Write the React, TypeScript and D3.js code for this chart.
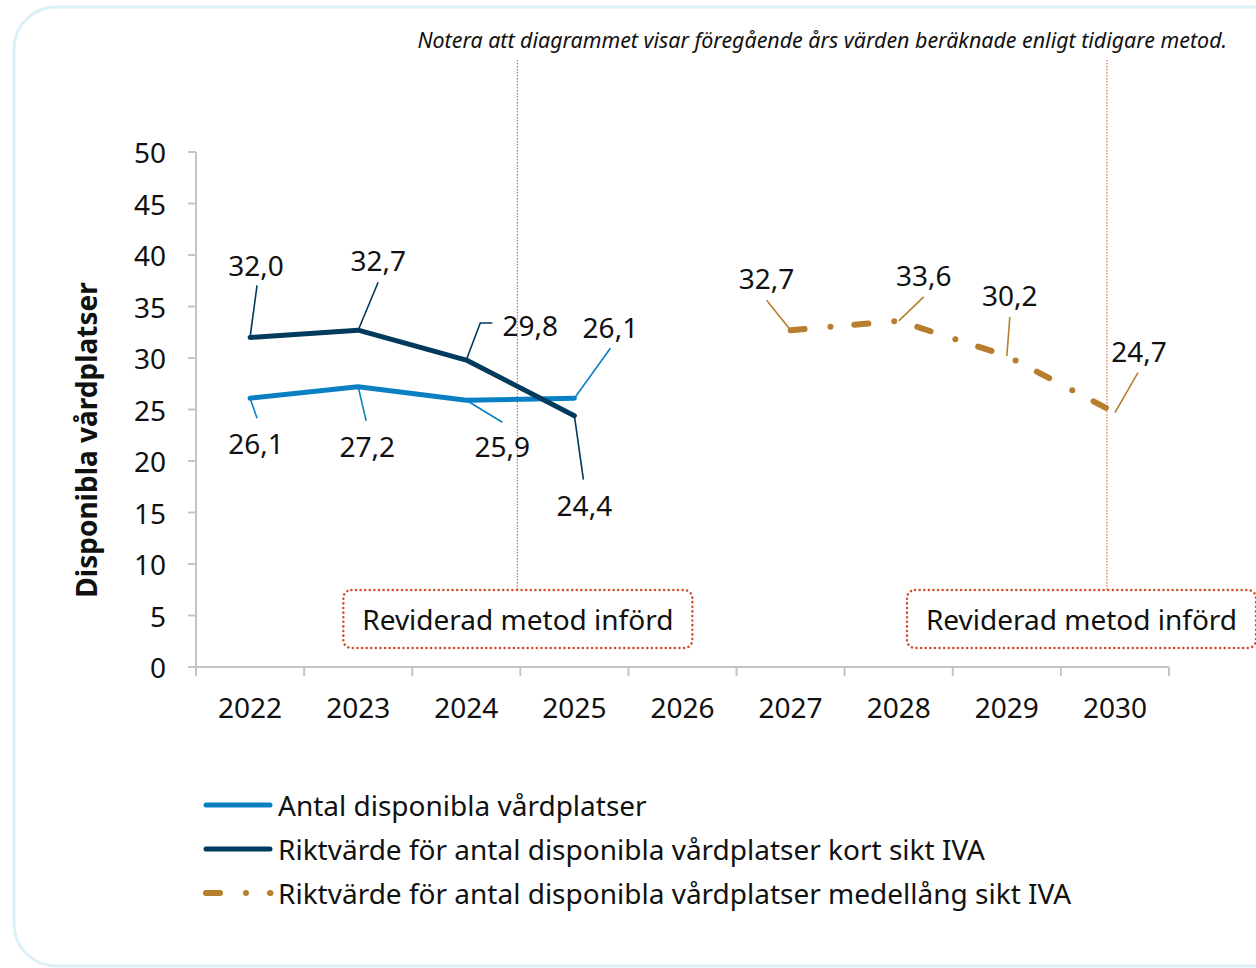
import React from 'react';
import * as d3 from 'd3';

// chart data
const years = ['2022', '2023', '2024', '2025', '2026', '2027', '2028', '2029', '2030'];
const yTicks = [0, 5, 10, 15, 20, 25, 30, 35, 40, 45, 50];

const antalYears = ['2022', '2023', '2024', '2025'];
const antalValues = [26.1, 27.2, 25.9, 26.1];

const kortYears = ['2022', '2023', '2024', '2025'];
const kortValues = [32.0, 32.7, 29.8, 24.4];

const medelYears = ['2027', '2028', '2029', '2030'];
const medelValues = [32.7, 33.6, 30.2, 24.7];

const seriesNames = [
  'Antal disponibla vårdplatser',
  'Riktvärde för antal disponibla vårdplatser kort sikt IVA',
  'Riktvärde för antal disponibla vårdplatser medellång sikt IVA',
];
const noteText = 'Notera att diagrammet visar föregående års värden beräknade enligt tidigare metod.';
const methodText = 'Reviderad metod införd';
const yTitle = 'Disponibla vårdplatser';

// label placement (offsets from the point, px): text centre, leader end, optional elbow
const antalLabelPos = [
  { tx: 6, ty: 45, lx: 7, ly: 20 },
  { tx: 9, ty: 59, lx: 8, ly: 34 },
  { tx: 36, ty: 46, lx: 36, ly: 22 },
  { tx: 36, ty: -71, lx: 36, ly: -50 },
];
const kortLabelPos = [
  { tx: 6, ty: -72, lx: 7, ly: -52 },
  { tx: 20, ty: -70, lx: 20, ly: -48 },
  { tx: 64, ty: -35, lx: 26, ly: -37, ex: 14 },
  { tx: 10, ty: 89, lx: 9, ly: 64 },
];
const medelLabelPos = [
  { tx: -24, ty: -52, lx: -24, ly: -30 },
  { tx: 25, ty: -46, lx: 25, ly: -24 },
  { tx: 3, ty: -61, lx: 3, ly: -39 },
  { tx: 24, ty: -62, lx: 23, ly: -40 },
];

const W = 1256;
const H = 968;
const FONT = '"Noto Sans", "Open Sans", sans-serif';
const FS = 28;

const LIGHT = '#0a80c4';
const NAVY = '#003a5d';
const GOLD = '#b77e2d';
const RED = '#d0502c';
const AXIS = '#c4c4c4';
const GOLD_DASH = '14 26 0 24';

const margin = { left: 196, right: W - 1169, top: 152, bottom: H - 667 };

export default function App() {
  const x = d3.scaleBand().domain(years).range([margin.left, W - margin.right]).padding(0);
  const y = d3.scaleLinear().domain([0, 50]).range([H - margin.bottom, margin.top]);
  const cx = (yr: string) => (x(yr) as number) + x.bandwidth() / 2;

  const line = d3
    .line<[string, number]>()
    .x((d) => cx(d[0]))
    .y((d) => y(d[1]));

  const antal = antalYears.map((yr, i) => [yr, antalValues[i]] as [string, number]);
  const kort = kortYears.map((yr, i) => [yr, kortValues[i]] as [string, number]);
  const medel = medelYears.map((yr, i) => [yr, medelValues[i]] as [string, number]);

  const y0 = y(0);
  const edges = years.map((yr) => x(yr) as number).concat([W - margin.right]);

  const fmt = (v: number) => v.toFixed(1).replace('.', ',');

  const labels = (pts: [string, number][], pos: any[], color: string, key: string) =>
    pts.map((d, i) => {
      const px = cx(d[0]);
      const py = y(d[1]);
      const p = pos[i];
      const path =
        p.ex !== undefined
          ? `M${px},${py}L${px + p.ex},${py + p.ly}L${px + p.lx},${py + p.ly}`
          : `M${px},${py}L${px + p.lx},${py + p.ly}`;
      return (
        <g key={key + i}>
          <path d={path} fill="none" stroke={color} strokeWidth={1.6} />
          <text
            x={px + p.tx}
            y={py + p.ty}
            textAnchor="middle"
            dominantBaseline="central"
            fontSize={FS}
            fill="#111"
          >
            {fmt(d[1])}
          </text>
        </g>
      );
    });

  // method change markers
  const markerX1 = (x('2025') as number) - 3;
  const markerX2 = cx('2030') - 8;
  const boxY = 590;
  const boxH = 58;
  const boxW = 349;
  const boxX = [markerX1 - 174, 907];

  const legendY = [805, 849, 893];

  return (
    <svg
      width={W}
      height={H}
      style={{ position: 'absolute', left: 0, top: 0, display: 'block', background: '#fff' }}
      fontFamily={FONT}
    >
      {/* frame */}
      <rect x={14} y={7} width={1300} height={959} rx={42} fill="none" stroke="#dcf0f8" strokeWidth={3} />

      <text x={1227} y={39} textAnchor="end" dominantBaseline="central" fontSize={21.4} fontStyle="italic" fill="#111">
        {noteText}
      </text>

      {/* method lines */}
      <line x1={markerX1} x2={markerX1} y1={60} y2={boxY} stroke={RED} strokeWidth={1} strokeDasharray="1.5 1.5" />
      <line x1={markerX2} x2={markerX2} y1={60} y2={boxY} stroke={RED} strokeWidth={1} strokeDasharray="1.5 1.5" />

      {/* y axis */}
      <line x1={margin.left} x2={margin.left} y1={y(50)} y2={y0} stroke={AXIS} strokeWidth={2} />
      {yTicks.map((t) => (
        <g key={'yt' + t}>
          <line x1={margin.left - 8} x2={margin.left} y1={y(t)} y2={y(t)} stroke={AXIS} strokeWidth={2} />
          <text x={166} y={y(t)} textAnchor="end" dominantBaseline="central" fontSize={FS} fill="#111">
            {t}
          </text>
        </g>
      ))}

      {/* x axis */}
      <line x1={margin.left} x2={W - margin.right} y1={y0} y2={y0} stroke={AXIS} strokeWidth={2} />
      {edges.map((e, i) => (
        <line key={'xt' + i} x1={e} x2={e} y1={y0} y2={y0 + 9} stroke={AXIS} strokeWidth={2} />
      ))}
      {years.map((yr) => (
        <text key={'xl' + yr} x={cx(yr)} y={718} textAnchor="middle" fontSize={FS} fill="#111">
          {yr}
        </text>
      ))}

      <text
        transform={`translate(86,440) rotate(-90)`}
        textAnchor="middle"
        dominantBaseline="central"
        fontSize={28}
        fontWeight="bold"
        fill="#111"
      >
        {yTitle}
      </text>

      {/* series */}
      <path d={line(antal) as string} fill="none" stroke={LIGHT} strokeWidth={5} strokeLinejoin="round" strokeLinecap="round" />
      <path d={line(kort) as string} fill="none" stroke={NAVY} strokeWidth={5} strokeLinejoin="round" strokeLinecap="round" />
      <path
        d={line(medel) as string}
        fill="none"
        stroke={GOLD}
        strokeWidth={6}
        strokeLinejoin="round"
        strokeLinecap="round"
        strokeDasharray={GOLD_DASH}
      />

      {labels(antal, antalLabelPos, LIGHT, 'a')}
      {labels(kort, kortLabelPos, NAVY, 'k')}
      {labels(medel, medelLabelPos, GOLD, 'm')}

      {/* method boxes */}
      {boxX.map((bx, i) => (
        <g key={'box' + i}>
          <rect
            x={bx}
            y={boxY}
            width={boxW}
            height={boxH}
            rx={8}
            fill="#fff"
            stroke={RED}
            strokeWidth={2.5}
            strokeDasharray="0.1 4.5"
            strokeLinecap="round"
          />
          <text x={bx + boxW / 2} y={boxY + boxH / 2} textAnchor="middle" dominantBaseline="central" fontSize={FS} fill="#111">
            {methodText}
          </text>
        </g>
      ))}

      {/* legend */}
      {seriesNames.map((name, i) => (
        <g key={'lg' + i}>
          <line
            x1={206}
            x2={i === 2 ? 270.5 : 270}
            y1={legendY[i]}
            y2={legendY[i]}
            stroke={[LIGHT, NAVY, GOLD][i]}
            strokeWidth={i === 2 ? 6 : 5}
            strokeLinecap="round"
            strokeDasharray={i === 2 ? GOLD_DASH : undefined}
          />
          <text x={278} y={legendY[i]} dominantBaseline="central" fontSize={FS} fill="#111">
            {name}
          </text>
        </g>
      ))}
    </svg>
  );
}
